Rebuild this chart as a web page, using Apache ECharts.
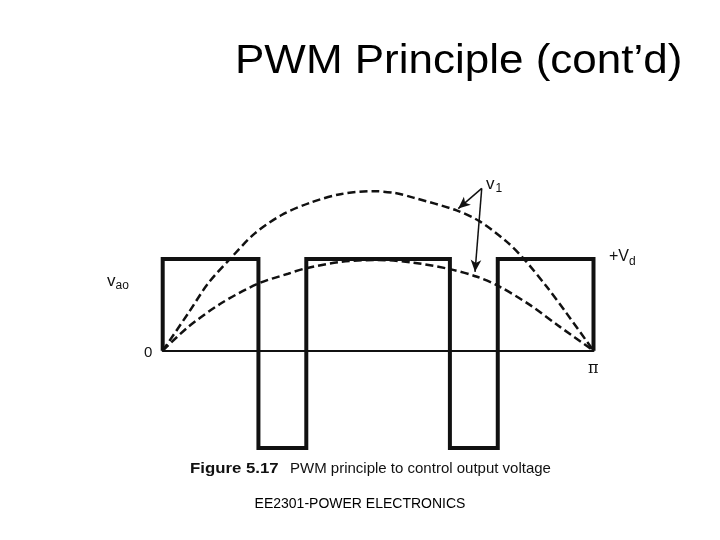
<!DOCTYPE html>
<html>
<head>
<meta charset="utf-8">
<script src="https://cdn.jsdelivr.net/npm/echarts@6/dist/echarts.min.js"></script>
<style>
  html, body { margin: 0; padding: 0; background: #fff; }
  #main { width: 720px; height: 540px; }
</style>
</head>
<body>
<div id="main"></div>
<script>
// angles in degrees (0 .. 180 = 0 .. pi), voltages in units of Vd
const pulseX = [0, 0, 40, 40, 60, 60, 120, 120, 140, 140, 180, 180];
const pulseY = [0, 1, 1, -1.06, -1.06, 1, 1, -1.06, -1.06, 1, 1, 0];

const bigX = [0, 10.7, 19, 28.8, 38.5, 49.7, 62.2, 74.8, 88, 97, 104.7, 122.8, 132.5, 143.7, 150.6, 160.4, 168.7, 180];
const bigY = [0, 0.41, 0.735, 1.02, 1.28, 1.48, 1.62, 1.71, 1.74, 1.72, 1.67, 1.53, 1.41, 1.19, 1.01, 0.70, 0.41, 0];

const smallX = [0, 10.7, 24.6, 39.7, 52.4, 60, 74.8, 90, 104.7, 120, 131, 140, 153.4, 166, 180];
const smallY = [0, 0.26, 0.52, 0.73, 0.84, 0.90, 0.97, 0.99, 0.96, 0.89, 0.81, 0.71, 0.50, 0.26, 0];

// arrows from the v1 label to both curves
const arrowFrom = [133.3, 1.77];
const arrowTo = [[123.5, 1.55], [130.5, 0.86]];

const zip = (xs, ys) => xs.map((x, i) => [x, ys[i]]);

const chart = echarts.init(document.getElementById('main'));
const font = 'Liberation Sans, Arial, sans-serif';
const ink = '#111';

chart.setOption({
  animation: false,
  backgroundColor: '#fff',
  grid: { left: 162.7, right: 126.5, top: 176.5, bottom: 88.4 },
  xAxis: {
    type: 'value', min: 0, max: 180,
    axisLine: { show: true, onZero: true, lineStyle: { color: ink, width: 2 } },
    axisTick: { show: false }, axisLabel: { show: false }, splitLine: { show: false }
  },
  yAxis: {
    type: 'value', min: -1.1, max: 1.9,
    axisLine: { show: false }, axisTick: { show: false },
    axisLabel: { show: false }, splitLine: { show: false }
  },
  series: [
    {
      type: 'line', data: zip(pulseX, pulseY), showSymbol: false,
      lineStyle: { color: ink, width: 4, join: 'miter' }
    },
    {
      type: 'line', data: zip(bigX, bigY), showSymbol: false, smooth: 0.3,
      lineStyle: { color: ink, width: 2.5, type: [8, 4] }
    },
    {
      type: 'line', data: zip(smallX, smallY), showSymbol: false, smooth: 0.3,
      lineStyle: { color: ink, width: 2.5, type: [8, 4] },
      markLine: {
        silent: true, symbol: ['none', 'arrow'], symbolSize: [8, 12],
        label: { show: false },
        lineStyle: { color: ink, width: 1.5, type: 'solid' },
        data: arrowTo.map(t => [{ coord: arrowFrom }, { coord: t }])
      }
    }
  ],
  graphic: [
    { type: 'text', x: 235, y: 62, scaleX: 1.1, style: { text: 'PWM Principle (cont\u2019d)', font: '40px ' + font, fill: '#000', verticalAlign: 'middle' } },
    { type: 'text', x: 486, y: 184, style: { text: '{a|v}{b|1}', verticalAlign: 'middle', fill: ink,
      rich: { a: { font: '17px ' + font }, b: { font: '12px ' + font, padding: [10, 0, 0, 1] } } } },
    { type: 'text', x: 609, y: 257, style: { text: '{a|+V}{b|d}', verticalAlign: 'middle', fill: ink,
      rich: { a: { font: '16px ' + font }, b: { font: '12px ' + font, padding: [10, 0, 0, 0] } } } },
    { type: 'text', x: 107, y: 281, style: { text: '{a|v}{b|ao}', verticalAlign: 'middle', fill: ink,
      rich: { a: { font: '17px ' + font }, b: { font: '12px ' + font, padding: [10, 0, 0, 0] } } } },
    { type: 'text', x: 144, y: 353, style: { text: '0', font: '15px ' + font, fill: ink, verticalAlign: 'middle' } },
    { type: 'text', x: 588, y: 369, style: { text: '\u03c0', font: '16px DejaVu Serif, serif', fill: ink, verticalAlign: 'middle' } },
    { type: 'text', x: 190, y: 469, scaleX: 1.12, style: { text: 'Figure 5.17', font: 'bold 15px ' + font, fill: ink, verticalAlign: 'middle' } },
    { type: 'text', x: 290, y: 469, style: { text: 'PWM principle to control output voltage', font: '15px ' + font, fill: ink, verticalAlign: 'middle' } },
    { type: 'text', x: 360, y: 504, style: { text: 'EE2301-POWER ELECTRONICS', font: '14px ' + font, fill: '#000', align: 'center', verticalAlign: 'middle' } }
  ]
});
</script>
</body>
</html>
